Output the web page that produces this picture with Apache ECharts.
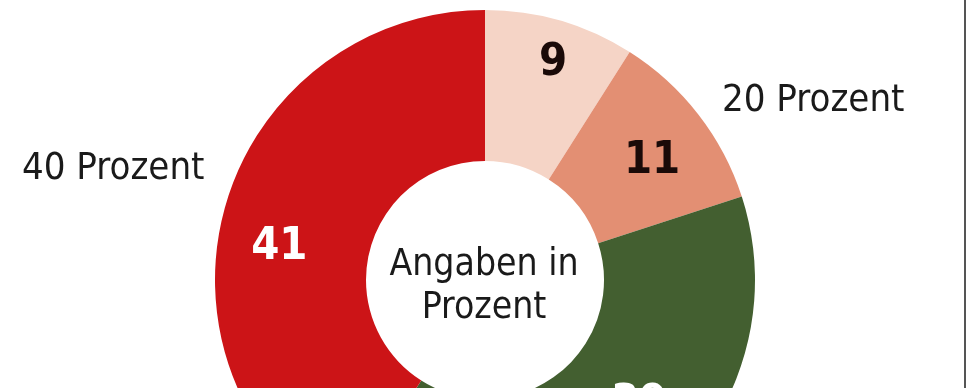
<!DOCTYPE html>
<html><head><meta charset="utf-8">
<script src="https://cdn.jsdelivr.net/npm/echarts@6/dist/echarts.min.js"></script>
<style>html,body{margin:0;padding:0;background:#fff}#c{width:970px;height:388px}</style>
</head><body><div id="c"></div>
<script>
const categories = ['A', 'B', 'C', 'D'];
const values = [9, 11, 39, 41];
const sliceColors = ['#f5d4c6', '#e38f73', '#435f30', '#cc1417'];
const labelColors = ['#1a0a08', '#1a0a08', '#ffffff', '#ffffff'];
const centerText = ['Angaben in', 'Prozent'];
const annotations = ['20 Prozent', '40 Prozent'];

const FONT = "'DejaVu Sans Condensed', 'Liberation Sans Narrow', sans-serif";
const labelShift = [[13, -27], [11, 2], [33, -32], [-16, 22]];

const chart = echarts.init(document.getElementById('c'), null, {renderer: 'canvas'});
chart.setOption({
  animation: false,
  backgroundColor: '#ffffff',
  series: [{
    type: 'pie',
    center: [485, 280],
    radius: [119, 270],
    startAngle: 90,
    clockwise: true,
    silent: true,
    data: categories.map((c, i) => ({
      name: c, value: values[i],
      itemStyle: {color: sliceColors[i]},
      label: {color: labelColors[i]}
    })),
    label: {
      show: true, position: 'inside', formatter: '{c}',
      fontFamily: FONT, fontWeight: 'bold', fontSize: 45
    },
    labelLine: {show: false},
    labelLayout: function (p) {
      const s = labelShift[p.dataIndex];
      return {dx: s[0], dy: s[1]};
    }
  }],
  graphic: [
    {type: 'text', x: 484, y: 265, style: {text: centerText[0], font: "37px " + FONT, fill: '#1a1a1a', textAlign: 'center', textVerticalAlign: 'middle'}},
    {type: 'text', x: 484, y: 308, style: {text: centerText[1], font: "37px " + FONT, fill: '#1a1a1a', textAlign: 'center', textVerticalAlign: 'middle'}},
    {type: 'text', x: 722, y: 101, style: {text: annotations[0], font: "38px " + FONT, fill: '#1a1a1a', textAlign: 'left', textVerticalAlign: 'middle'}},
    {type: 'text', x: 22, y: 169, style: {text: annotations[1], font: "38px " + FONT, fill: '#1a1a1a', textAlign: 'left', textVerticalAlign: 'middle'}},
    {type: 'rect', shape: {x: 964, y: 0, width: 2, height: 388}, style: {fill: '#555555'}}
  ]
});
</script></body></html>
